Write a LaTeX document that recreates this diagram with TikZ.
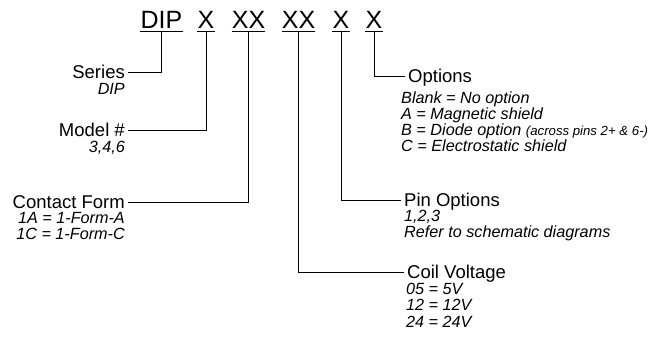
\documentclass[tikz,border=0pt]{standalone}
\usepackage{fontspec}
\setmainfont{Liberation Sans}
\begin{document}
\begin{tikzpicture}[x=1pt,y=-1pt,
  hdr/.style={font=\fontsize{25}{30}\selectfont, inner sep=0pt, anchor=base},
  lbl/.style={font=\fontsize{18.5}{22}\selectfont, inner xsep=3pt, inner ysep=0pt, text height=13.2pt, text depth=0pt},
  sub/.style={font=\fontsize{16.2}{17}\selectfont\itshape, inner sep=0pt, text height=11.6pt, text depth=0pt},
  wire/.style={line width=0.8pt}]
\newcommand\smalltxt{\fontsize{13.2}{14}\selectfont}
\useasboundingbox (0,0) rectangle (661,343);
% header
\node[hdr] (dip) at (161.5,28) {DIP};
\node[hdr] (x1) at (206,28) {X};
\node[hdr] (x2) at (248.5,28) {XX};
\node[hdr] (x3) at (298.5,28) {XX};
\node[hdr] (x4) at (341,28) {X};
\node[hdr] (x5) at (374,28) {X};
\foreach \n in {dip,x1,x2,x3,x4,x5}
  \draw[wire] ([yshift=-3pt]\n.base west) -- ([yshift=-3pt]\n.base east);
% left labels
\node[lbl, anchor=east] (series) at (128,72) {Series};
\node[sub, anchor=east] (seriesA) at (125,89) {DIP};
\node[lbl, anchor=east] (model) at (128,130) {Model \#};
\node[sub, anchor=east] (modelA) at (125,147) {3,4,6};
\node[lbl, anchor=east] (contact) at (128,202) {Contact Form};
\node[sub, anchor=east] (contactA) at (125,218) {1A = 1-Form-A};
\node[sub, anchor=east] (contactB) at (125,234) {1C = 1-Form-C};
% right labels
\node[lbl, anchor=west] (options) at (405,76) {Options};
\node[sub, anchor=west] (optA) at (401,98) {Blank = No option};
\node[sub, anchor=west] (optB) at (401,114) {A = Magnetic shield};
\node[sub, anchor=west] (optC) at (401,130) {B = Diode option {\smalltxt (across pins 2+ \& 6-)}};
\node[sub, anchor=west] (optD) at (401,146) {C = Electrostatic shield};
\node[lbl, anchor=west] (pin) at (401,200) {Pin Options};
\node[sub, anchor=west] (pinA) at (404,216) {1,2,3};
\node[sub, anchor=west] (pinB) at (404,232) {Refer to schematic diagrams};
\node[lbl, anchor=west] (coil) at (404,272) {Coil Voltage};
\node[sub, anchor=west] (coilA) at (406,289) {05 = 5V};
\node[sub, anchor=west] (coilB) at (406,305) {12 = 12V};
\node[sub, anchor=west] (coilC) at (406,322) {24 = 24V};
% connectors
\draw[wire] ([yshift=-3pt]dip.base) |- (series.east);
\draw[wire] ([yshift=-3pt]x1.base) |- (model.east);
\draw[wire] ([yshift=-3pt]x2.base) |- (contact.east);
\draw[wire] ([yshift=-3pt]x3.base) |- (coil.west);
\draw[wire] ([yshift=-3pt]x4.base) |- (pin.west);
\draw[wire] ([yshift=-3pt]x5.base) |- (options.west);
\end{tikzpicture}
\end{document}
